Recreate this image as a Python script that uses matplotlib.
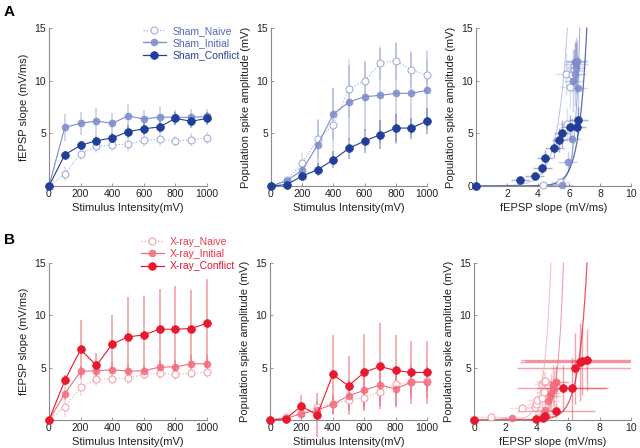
import numpy as np
import matplotlib
matplotlib.use('Agg')
import matplotlib.pyplot as plt
from matplotlib.colors import to_rgba

plt.rcParams['font.family'] = ['Liberation Sans', 'DejaVu Sans']

# stimulus intensities (mV)
stim = [0, 100, 200, 300, 400, 500, 600, 700, 800, 900, 1000]

# ---- A: Sham ----
sham_slope_naive = [0, 1.17, 3.07, 3.77, 3.92, 3.96, 4.34, 4.43, 4.27, 4.4, 4.56]
sham_slope_naive_err = [0, 0.7, 0.6, 0.6, 0.6, 0.6, 0.6, 0.6, 0.5, 0.6, 0.6]
sham_slope_init = [0, 5.57, 5.95, 6.17, 5.95, 6.65, 6.36, 6.55, 6.52, 6.52, 6.6]
sham_slope_init_err = [0, 1.3, 1.1, 1.2, 1.0, 1.1, 0.9, 1.0, 0.7, 0.8, 0.7]
sham_slope_conf = [0, 2.97, 3.86, 4.3, 4.56, 5.16, 5.44, 5.6, 6.42, 6.14, 6.42]
sham_slope_conf_err = [0, 0.4, 0.4, 0.5, 0.5, 0.6, 0.6, 0.6, 0.6, 0.6, 0.6]

sham_pop_naive = [0, 0.54, 2.2, 4.46, 5.76, 9.24, 9.97, 11.68, 11.9, 11.0, 10.5]
sham_pop_naive_err = [0, 0.3, 0.9, 1.9, 3.5, 2.8, 2.0, 1.6, 1.8, 1.6, 1.6]
sham_pop_init = [0, 0.5, 1.49, 3.92, 6.84, 7.97, 8.48, 8.6, 8.8, 8.8, 9.08]
sham_pop_init_err = [0, 0.3, 1.0, 2.3, 2.5, 3.5, 3.3, 4.5, 4.8, 4.0, 3.7]
sham_pop_conf = [0, 0.13, 0.95, 1.55, 2.5, 3.58, 4.27, 4.87, 5.5, 5.5, 6.17]
sham_pop_conf_err = [0, 0.1, 0.4, 0.6, 0.8, 1.0, 1.1, 1.4, 1.3, 1.0, 1.2]

# slope vs pop spike scatter (sham)
sham_sc_naive_x = [0, 4.3, 5.45, 5.9, 6.05, 5.8, 6.3, 6.35, 6.45, 6.3, 6.2]
sham_sc_naive_y = [0, 0.1, 0.4, 5.9, 9.4, 10.6, 10.9, 11.4, 11.9, 11.0, 10.5]
sham_sc_naive_xerr = [0, 0.6, 0.6, 0.6, 0.6, 0.7, 0.6, 0.6, 0.7, 0.6, 0.6]
sham_sc_naive_yerr = [0, 0.2, 0.4, 1.5, 2.0, 2.0, 2.0, 1.6, 1.8, 1.6, 1.6]
sham_sc_init_x = [0, 5.57, 5.91, 6.17, 6.56, 6.28, 6.4, 6.43, 6.45, 6.5, 6.4]
sham_sc_init_y = [0, 0.1, 2.3, 4.45, 9.3, 10.0, 10.6, 11.2, 11.6, 11.9, 11.8]
sham_sc_init_xerr = [0, 0.7, 0.6, 0.6, 0.6, 0.6, 0.7, 0.6, 0.8, 0.7, 0.6]
sham_sc_init_yerr = [0, 0.2, 1.0, 2.0, 3.0, 3.0, 3.0, 2.5, 2.5, 2.0, 2.0]
sham_sc_conf_x = [0, 2.84, 3.79, 4.28, 4.45, 5.05, 5.38, 5.53, 6.06, 6.49, 6.6]
sham_sc_conf_y = [0, 0.54, 0.98, 1.68, 2.63, 3.64, 4.37, 5.0, 5.57, 5.57, 6.27]
sham_sc_conf_xerr = [0, 0.6, 0.6, 0.6, 0.5, 0.6, 0.5, 0.5, 0.6, 0.6, 0.6]
sham_sc_conf_yerr = [0, 0.2, 0.3, 0.5, 0.8, 1.0, 1.1, 1.3, 1.2, 1.0, 1.2]

# exponential fit curves: slope where fit = 1 mV and where fit = 15 mV
sham_fit_x1 = [4.1, 5.85, 5.8]
sham_fit_x15 = [5.9, 6.7, 7.15]

# ---- B: X-ray ----
xray_slope_naive = [0, 1.24, 3.11, 3.88, 3.94, 4.0, 4.35, 4.45, 4.35, 4.48, 4.54]
xray_slope_naive_err = [0, 1.0, 0.8, 0.6, 0.6, 0.6, 0.5, 0.5, 0.5, 0.5, 0.5]
xray_slope_init = [0, 2.51, 4.64, 4.7, 4.8, 4.67, 4.7, 5.05, 5.08, 5.37, 5.37]
xray_slope_init_err = [0, 0.6, 0.5, 0.6, 0.7, 0.7, 0.6, 0.7, 0.7, 0.8, 0.8]
xray_slope_conf = [0, 3.78, 6.74, 5.21, 7.25, 7.94, 8.13, 8.67, 8.67, 8.74, 9.25]
xray_slope_conf_err = [0, 0.5, 2.8, 1.2, 2.8, 3.8, 3.75, 3.85, 4.1, 3.7, 4.2]

xray_pop_naive = [0, 0.29, 0.67, 1.24, 1.49, 1.9, 2.13, 2.7, 3.46, 3.59, 3.69]
xray_pop_naive_err = [0, 0.2, 0.4, 0.6, 0.7, 0.8, 0.9, 1.0, 1.0, 1.0, 1.0]
xray_pop_init = [0, 0.13, 0.6, 0.95, 1.49, 2.32, 2.83, 3.34, 2.96, 3.62, 3.62]
xray_pop_init_err = [0, 0.1, 0.5, 0.8, 1.0, 1.5, 1.8, 2.0, 1.8, 1.6, 1.5]
xray_pop_conf = [0, 0.13, 1.33, 0.48, 4.35, 3.27, 4.54, 5.12, 4.73, 4.54, 4.54]
xray_pop_conf_err = [0, 0.1, 1.1, 2.1, 3.75, 2.8, 3.7, 4.1, 3.4, 3.0, 3.0]

xray_sc_naive_x = [0, 1.1, 3.05, 3.9, 3.95, 4.0, 4.35, 4.45, 4.35, 4.48, 4.54]
xray_sc_naive_y = [0, 0.3, 1.1, 1.25, 1.5, 1.9, 2.13, 2.7, 3.46, 3.59, 3.69]
xray_sc_naive_xerr = [0, 1.0, 0.8, 0.6, 0.6, 0.6, 0.5, 0.5, 0.5, 0.5, 0.5]
xray_sc_naive_yerr = [0, 0.2, 0.4, 0.6, 0.7, 0.8, 0.9, 1.0, 1.0, 1.0, 1.0]
xray_sc_init_x = [0, 2.4, 4.45, 4.55, 4.7, 4.85, 4.9, 5.0, 5.1, 5.2, 5.25]
xray_sc_init_y = [0, 0.15, 0.6, 0.98, 1.85, 2.3, 2.6, 3.3, 3.0, 3.6, 3.65]
xray_sc_init_xerr = [0, 0.8, 0.6, 0.6, 0.7, 0.7, 0.6, 0.7, 0.7, 0.8, 0.8]
xray_sc_init_yerr = [0, 0.1, 0.5, 0.8, 1.0, 1.5, 1.8, 2.0, 1.8, 1.6, 1.5]
xray_sc_conf_x = [0, 3.95, 4.42, 4.5, 5.22, 5.65, 6.22, 6.43, 6.75, 6.86, 7.22]
xray_sc_conf_y = [0, 0.1, 0.2, 0.35, 0.89, 3.04, 3.04, 4.94, 5.54, 5.63, 5.73]
xray_sc_conf_xerr = [0, 0.6, 0.4, 0.5, 2.5, 2.9, 2.2, 3.7, 3.8, 3.6, 4.2]
xray_sc_conf_yerr = [0, 0.1, 0.2, 0.3, 0.7, 2.2, 3.0, 3.4, 3.7, 3.2, 3.0]

xray_fit_x1 = [3.82, 4.75, 5.75]
xray_fit_x15 = [4.9, 5.7, 7.2]

sham_colors = ['#a6aedd', '#7d8bcb', '#213f99']
xray_colors = ['#f6a3ae', '#f26d7d', '#e8192e']
sham_text_colors = ['#5868b9', '#5466b8', '#2a4399']
xray_text_colors = ['#ef3a4e', '#ec2f44', '#e4172b']
sham_labels = ['Sham_Naive', 'Sham_Initial', 'Sham_Conflict']
xray_labels = ['X-ray_Naive', 'X-ray_Initial', 'X-ray_Conflict']


def marker_style(i, c):
    if i == 0:
        return dict(marker='o', ms=5, mfc='white', mec=c, mew=0.8)
    if i == 1:
        return dict(marker='o', ms=5, mfc=to_rgba(c, 0.85), mec=to_rgba(c, 0.85), mew=0.5)
    return dict(marker='o', ms=5.6, mfc=c, mec=c, mew=0.5)


def style_axes(ax, xmax, xticks, yticks):
    ax.set_xlim(0, xmax)
    ax.set_ylim(0, 15)
    for s in ['top', 'right']:
        ax.spines[s].set_visible(False)
    for s in ['left', 'bottom']:
        ax.spines[s].set_color('#8a8a8a')
        ax.spines[s].set_linewidth(0.8)
    ax.set_xticks(xticks)
    ax.set_yticks(yticks)
    ax.tick_params(direction='in', length=2, width=0.6, color='#8a8a8a',
                   labelsize=7.5, labelcolor='#222222', pad=2)


def line_panel(ax, means, errs, colors, ylabel):
    for i in range(3):
        c = colors[i]
        ax.errorbar(stim, means[i], yerr=errs[i], fmt='none',
                    ecolor=to_rgba(c, 0.45), elinewidth=1.1, capsize=0, clip_on=False)
        ls = ':' if i == 0 else '-'
        ax.plot(stim, means[i], ls=ls, lw=0.8, color=c, clip_on=False, zorder=3,
                **marker_style(i, c))
    style_axes(ax, 1000, [0, 200, 400, 600, 800, 1000], [5, 10, 15])
    ax.set_xlabel('Stimulus Intensity(mV)', fontsize=8, color='#222222', labelpad=3)
    ax.set_ylabel(ylabel, fontsize=8, color='#222222', labelpad=4)


def scatter_panel(ax, xs, ys, xerrs, yerrs, fx1, fx15, colors, yticks):
    for i in range(3):
        c = colors[i]
        ax.errorbar(xs[i], ys[i], xerr=xerrs[i], yerr=yerrs[i], fmt='none',
                    ecolor=to_rgba(c, 0.4), elinewidth=1.0, capsize=0)
    for i in range(3):
        c = colors[i]
        b = np.log(15) / (fx15[i] - fx1[i])
        xx = np.linspace(0, fx15[i], 300)
        ax.plot(xx, np.exp(b * (xx - fx1[i])), color=c, lw=0.7 if i < 2 else 0.9,
                alpha=0.75, clip_on=False, zorder=2)
    for i in range(3):
        c = colors[i]
        ax.plot(xs[i], ys[i], ls='none', clip_on=False, zorder=3, **marker_style(i, c))
    style_axes(ax, 10, [0, 2, 4, 6, 8, 10], yticks)
    ax.set_xlabel('fEPSP slope (mV/ms)', fontsize=8, color='#222222', labelpad=3)
    ax.set_ylabel('Population spike amplitude (mV)', fontsize=8, color='#222222', labelpad=4)


fig = plt.figure(figsize=(6.4, 4.48), dpi=100)
W, H = 640.0, 448.0


def add_ax(x0, x1, y0, y1):
    return fig.add_axes([x0 / W, 1 - y0 / H, (x1 - x0) / W, (y0 - y1) / H])


ax1 = add_ax(49, 207, 186, 28)
ax2 = add_ax(271, 427, 186, 28)
ax3 = add_ax(476, 631, 186, 28)
ax4 = add_ax(49, 207, 420, 263)
ax5 = add_ax(270, 427, 420, 263)
ax6 = add_ax(474, 631, 420, 263)

line_panel(ax1, [sham_slope_naive, sham_slope_init, sham_slope_conf],
           [sham_slope_naive_err, sham_slope_init_err, sham_slope_conf_err],
           sham_colors, 'fEPSP slope (mV/ms)')
line_panel(ax2, [sham_pop_naive, sham_pop_init, sham_pop_conf],
           [sham_pop_naive_err, sham_pop_init_err, sham_pop_conf_err],
           sham_colors, 'Population spike amplitude (mV)')
scatter_panel(ax3, [sham_sc_naive_x, sham_sc_init_x, sham_sc_conf_x],
              [sham_sc_naive_y, sham_sc_init_y, sham_sc_conf_y],
              [sham_sc_naive_xerr, sham_sc_init_xerr, sham_sc_conf_xerr],
              [sham_sc_naive_yerr, sham_sc_init_yerr, sham_sc_conf_yerr],
              sham_fit_x1, sham_fit_x15, sham_colors, [0, 5, 10, 15])
ax3.set_xticks([2, 4, 6, 8, 10])

line_panel(ax4, [xray_slope_naive, xray_slope_init, xray_slope_conf],
           [xray_slope_naive_err, xray_slope_init_err, xray_slope_conf_err],
           xray_colors, 'fEPSP slope (mV/ms)')
line_panel(ax5, [xray_pop_naive, xray_pop_init, xray_pop_conf],
           [xray_pop_naive_err, xray_pop_init_err, xray_pop_conf_err],
           xray_colors, 'Population spike amplitude (mV)')
scatter_panel(ax6, [xray_sc_naive_x, xray_sc_init_x, xray_sc_conf_x],
              [xray_sc_naive_y, xray_sc_init_y, xray_sc_conf_y],
              [xray_sc_naive_xerr, xray_sc_init_xerr, xray_sc_conf_xerr],
              [xray_sc_naive_yerr, xray_sc_init_yerr, xray_sc_conf_yerr],
              xray_fit_x1, xray_fit_x15, xray_colors, [5, 10, 15])

# legends
for ax, labels, colors, tcolors, anchor in [
        (ax1, sham_labels, sham_colors, sham_text_colors, (143 / W, 1 - 26 / H)),
        (ax4, xray_labels, xray_colors, xray_text_colors, (141 / W, 1 - 237 / H))]:
    handles = []
    for i in range(3):
        ls = ':' if i == 0 else '-'
        h, = ax.plot([], [], ls=ls, lw=0.9, color=colors[i], **marker_style(i, colors[i]))
        handles.append(h)
    leg = fig.legend(handles, labels, loc='upper left', bbox_to_anchor=anchor,
                     frameon=False, fontsize=7.5, handlelength=2.2, handletextpad=0.6,
                     labelspacing=0.2, borderpad=0, borderaxespad=0)
    for t, c in zip(leg.get_texts(), tcolors):
        t.set_color(c)

fig.text(4 / W, 1 - 12 / H, 'A', fontsize=11, fontweight='bold', va='center')
fig.text(4 / W, 1 - 240 / H, 'B', fontsize=11, fontweight='bold', va='center')

fig.savefig('out.png', dpi=100)
